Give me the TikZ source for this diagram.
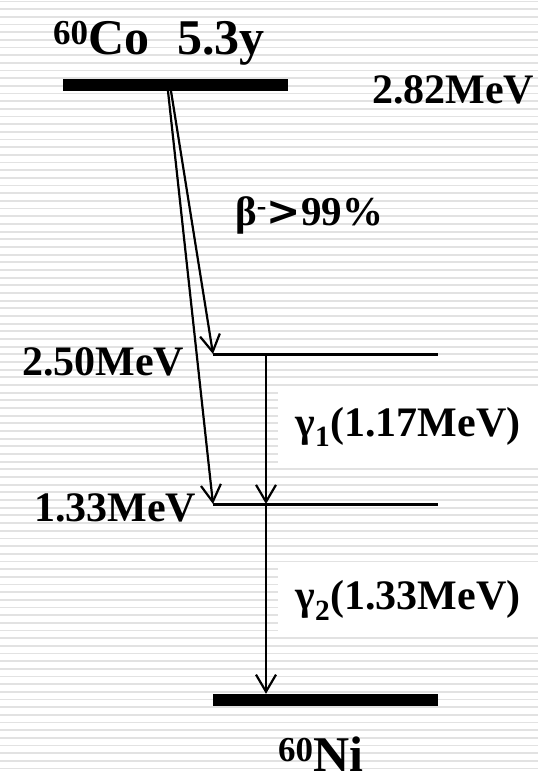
\documentclass[tikz,border=0pt]{standalone}
\usepackage{fontspec}
\setmainfont{Liberation Serif}
\newfontfamily\gtfont{DejaVu Sans}
\usetikzlibrary{arrows.meta, positioning}
\definecolor{StripeGray}{RGB}{226, 226, 226}
\tikzset{
  bar/.style={rectangle, fill=black, inner sep=0pt,
              minimum width=225pt, minimum height=12pt},
  lvl/.style={line width=3pt},
  arr/.style={-{Straight Barb[length=17pt, width=20pt]}, line width=2.2pt},
  lbl/.style={font=\fontsize{42}{42}\selectfont\bfseries, inner sep=0pt},
  nucl/.style={font=\fontsize{50}{50}\selectfont\bfseries, inner sep=0pt},
  glbl/.style={rectangle, fill=white, inner sep=0pt, minimum width=260pt,
               font=\fontsize{42}{42}\selectfont\bfseries},
}

\begin{document}
\begin{tikzpicture}[x=1pt, y=-1pt]
  \useasboundingbox (0,0) rectangle (538,774);
  % striped background
  \foreach \k in {0,...,100}
    \draw[StripeGray, line width=1.8pt] (0,{1.5+7.67*\k}) -- (538,{1.5+7.67*\k});

  % levels
  \node[bar] (co) at (175.5,85) {};
  \node[bar] (ni) at (325.5,700) {};
  \coordinate (l250w) at (213,354);
  \coordinate (l250e) at (438,354);
  \coordinate (l133w) at (213,504);
  \coordinate (l133e) at (438,504);
  \draw[lvl] (l250w) -- (l250e);
  \draw[lvl] (l133w) -- (l133e);

  % gamma labels on white
  \node[glbl, minimum height=73pt] (g1) at (408,427) {γ\textsubscript{1}(1.17MeV)};
  \node[glbl, minimum height=64pt] (g2) at (408,600) {γ\textsubscript{2}(1.33MeV)};

  % beta branches
  \coordinate (b1) at (168,91);
  \coordinate (b2) at (171,91);
  \draw[arr] (b2) -- (l250w);
  \draw[arr] (b1) -- (l133w);

  % gamma cascade
  \coordinate (g250) at (266,354);
  \coordinate (g133) at (266,504);
  \draw[arr] (g250) -- (g133);
  \draw[arr] (g133) -- (ni.north -| g133);

  % texts
  \node[nucl, anchor=base west] (parent) at (53,54) {\textsuperscript{60}Co\hspace{0.55em}5.3y};
  \node[nucl, anchor=base west] (daughter) at (278,771) {\textsuperscript{60}Ni};
  \node[lbl, anchor=base west] (e282) at (372,103) {2.82MeV};
  \node[lbl, anchor=base west] (e250) at (22,375) {2.50MeV};
  \node[lbl, anchor=base west] (e133) at (34,521) {1.33MeV};
  \node[lbl, anchor=base west, font=\fontsize{41}{41}\selectfont\bfseries] (beta) at (235,225)
       {β\textsuperscript{-}{\gtfont >}99\%};
\end{tikzpicture}
\end{document}
